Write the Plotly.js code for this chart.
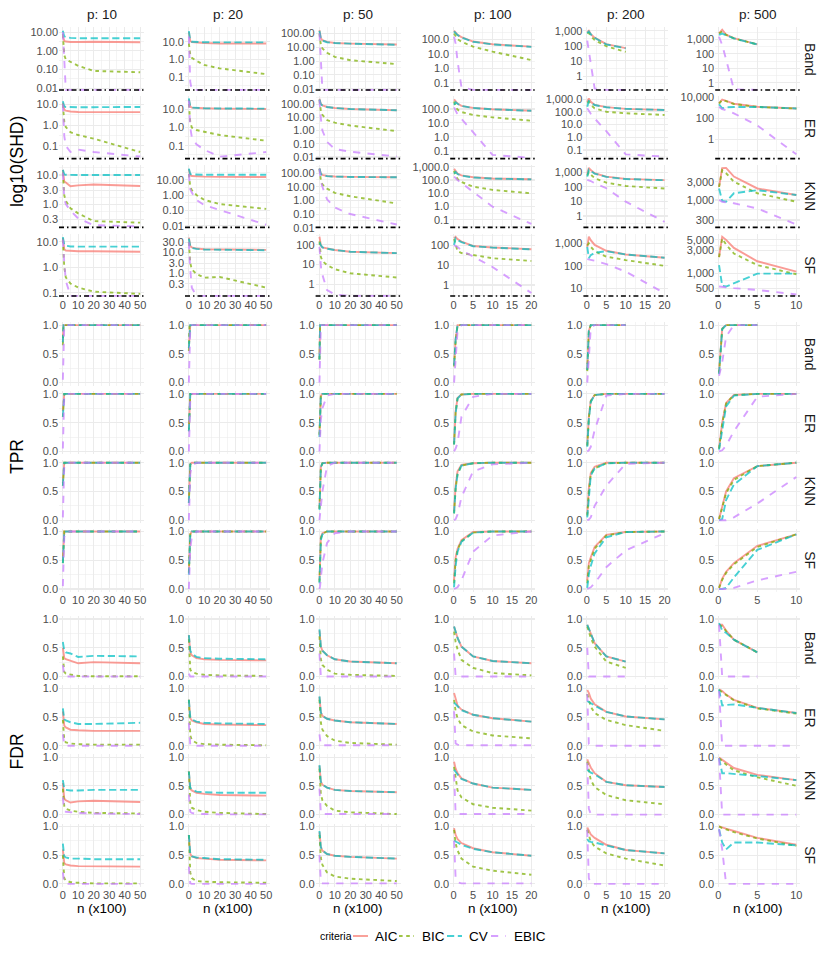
<!DOCTYPE html>
<html>
<head>
<meta charset="utf-8">
<script src="https://cdn.plot.ly/plotly-3.0.1.min.js"></script>
<style>html,body{margin:0;padding:0;background:#fff;}#chart{width:830px;height:958px;}</style>
</head>
<body>
<div id="chart"></div>
<script>
// ---------------- DATA ----------------
const N_VALUES = [0.1, 0.5, 1, 2, 5, 10, 20, 50];   // n (x100)
const P_LABELS = ['p: 10', 'p: 20', 'p: 50', 'p: 100', 'p: 200', 'p: 500'];
const GRAPHS = ['Band', 'ER', 'KNN', 'SF'];
const CRITERIA = ['AIC', 'BIC', 'CV', 'EBIC'];
const METRIC_TITLES = ['log10(SHD)', 'TPR', 'FDR'];

// each graph: [AIC, BIC, CV, EBIC]
const SHD_p10 = {
  Band: [[6,4,3.5,3.2,3.0,3.0,3.1,2.9],[8,1.5,0.6,0.35,0.27,0.16,0.085,0.072],[12,8,6,5.5,5,4.8,4.8,4.8],[10,2,0.1,0,0,0,0,0]],
  ER:   [[12,7,5.5,5,4.5,4.3,4.2,4.2],[10,3,1.5,0.8,0.45,0.33,0.22,0.05],[14,10,8,7.5,7.3,7.3,7.3,7.5],[10,1,0.3,0.1,0.05,0.065,0.05,0.03]],
  KNN:  [[15,7,6,5.5,4.1,4.4,4.7,4.2],[12,3,2,1.3,0.72,0.48,0.26,0.23],[15,11,10.5,10.2,10,10,10,10],[12,2,1.5,1.0,0.6,0.32,0.19,0.17]],
  SF:   [[14,7,5,4.5,4.3,4.2,4.2,4.0],[12,3,1,0.4,0.23,0.16,0.11,0.09],[15,9,7.5,7,6.5,6.4,6.4,6.4],[12,4,1.5,0.3,0,0,0,0]]
};
const SHD_p20 = {
  Band: [[35,15,11,9.5,9,8.5,8,8],[8,3,1.8,1.2,0.8,0.47,0.3,0.14],[40,16,12,10,9.5,9.3,9.2,9.2],[20,1,0.05,0,0,0,0,0]],
  ER:   [[35,18,14,12.5,12,11.5,11,10.5],[20,4,2,1.0,0.73,0.59,0.39,0.19],[40,18,14,12.5,12,11.5,11.2,11],[30,5,1,0.3,0.12,0.06,0.025,0.045]],
  KNN:  [[50,25,20,18,17,16.5,16,15.5],[25,6,3.5,2.2,1.05,0.5,0.27,0.13],[55,28,24,23,22,22,22,22],[25,5,2.5,1.5,0.5,0.23,0.11,0.012]],
  SF:   [[50,25,20,17,15,14,13.5,13],[30,6,3,1.5,0.9,0.6,0.65,0.2],[45,22,19,16,14.5,13.5,13,12.5],[30,5,1.5,0.2,0,0,0,0]]
};
const SHD_p50 = {
  Band: [[170,70,45,32,24,20,18,15.5],[100,30,15,8,4,2,1.15,0.6],[150,65,42,30,23,20,18,15],[100,10,0.5,0,0,0,0,0]],
  ER:   [[250,130,100,80,60,50,42,34],[200,60,30,15,6.2,3.9,2.4,0.9],[220,120,95,78,60,50,42,34],[200,40,8,1,0.14,0.04,0.025,0.011]],
  KNN:  [[230,120,90,75,62,57,53,50],[200,60,30,15,7.3,3.6,2.0,0.6],[220,110,85,72,60,56,52,50],[200,50,25,10,1.2,0.3,0.1,0.017]],
  SF:   [[260,130,95,75,65,55,45,38],[150,50,25,15,9.5,5.8,3.6,2.2],[110,120,95,75,64,55,45,38],[80,20,8,3,0.5,0.3,0,0]]
};
const SHD_p100 = {
  Band: [[400,280,200,140,70,45,31],[250,150,100,68,31,14,3.7],[350,270,195,135,68,44,30],[150,50,3,0.05,0,0,0]],
  ER:   [[500,350,250,170,120,95,75],[350,150,90,60,37,25,14.4],[200,300,240,165,120,95,75],[130,70,40,20,2.0,0.05,0.03]],
  KNN:  [[700,450,300,220,160,130,115],[500,200,120,70,32,18,10],[300,400,280,210,155,128,112],[180,130,100,60,13,1.0,0.05]],
  SF:   [[220,260,200,150,90,76,62],[200,120,50,40,32,22,16],[100,220,180,140,88,75,61],[100,90,80,55,26,8,0.4]]
};
const SHD_p200 = {
  Band: [[800,1000,600,350,130,70],[700,700,450,240,95,40],[700,900,580,340,125,68],[220,50,5,0.15,0,0]],
  ER:   [[600,1100,600,350,230,170,140],[500,600,350,185,100,76,56],[250,700,550,340,225,168,138],[190,120,70,30,3,0.045,0.03]],
  KNN:  [[800,2000,1400,850,500,350,290],[600,1000,700,390,195,115,76],[500,1500,1200,800,480,340,285],[300,280,250,175,80,9.6,0.4]],
  SF:   [[700,2000,1400,850,470,320,230],[800,1000,700,450,255,180,100],[700,220,300,380,450,320,230],[200,195,190,170,120,55,6]]
};
const SHD_p500 = {
  Band: [[2600,4500,2100,1200,450],[2500,3500,2000,1150,440],[2000,2500,1900,1150,440],[1500,400,40,0.35,0.3]],
  ER:   [[2500,5500,4000,2200,1150,800],[2300,5000,3800,2100,1100,780],[2000,800,1000,1100,1100,800],[1100,700,550,280,20,0.04]],
  KNN:  [[2200,6800,6900,4100,2000,1350],[2200,6000,5000,3000,1500,900],[2000,950,900,1500,1800,1350],[1000,900,870,820,600,230]],
  SF:   [[2200,5800,5000,3400,1800,1100],[2200,5300,4000,2600,1500,970],[1500,560,540,630,1000,1000],[540,530,520,500,460,370]]
};

const TPR_p10 = {
  Band: [[0.7,1,1,1,1,1,1,1],[0.65,1,1,1,1,1,1,1],[0.7,1,1,1,1,1,1,1],[0.05,0.9,1,1,1,1,1,1]],
  ER:   [[0.7,0.97,1,1,1,1,1,1],[0.6,0.95,1,1,1,1,1,1],[0.6,0.95,1,1,1,1,1,1],[0.05,0.8,0.98,1,1,1,1,1]],
  KNN:  [[0.65,0.95,1,1,1,1,1,1],[0.6,0.95,1,1,1,1,1,1],[0.6,0.95,1,1,1,1,1,1],[0.05,0.7,0.95,1,1,1,1,1]],
  SF:   [[0.5,0.9,1,1,1,1,1,1],[0.45,0.9,1,1,1,1,1,1],[0.45,0.9,1,1,1,1,1,1],[0.05,0.6,0.9,1,1,1,1,1]]
};
const TPR_p20 = {
  Band: [[0.6,0.98,1,1,1,1,1,1],[0.55,0.98,1,1,1,1,1,1],[0.6,0.98,1,1,1,1,1,1],[0,0.7,0.95,1,1,1,1,1]],
  ER:   [[0.4,0.9,1,1,1,1,1,1],[0.35,0.9,1,1,1,1,1,1],[0.35,0.9,1,1,1,1,1,1],[0,0.5,0.9,1,1,1,1,1]],
  KNN:  [[0.35,0.85,0.97,1,1,1,1,1],[0.3,0.85,0.97,1,1,1,1,1],[0.3,0.8,0.97,1,1,1,1,1],[0,0.4,0.8,0.95,1,1,1,1]],
  SF:   [[0.3,0.8,0.95,1,1,1,1,1],[0.28,0.78,0.95,1,1,1,1,1],[0.25,0.75,0.95,1,1,1,1,1],[0,0.3,0.7,0.9,1,1,1,1]]
};
const TPR_p50 = {
  Band: [[0.4,1,1,1,1,1,1,1],[0.4,1,1,1,1,1,1,1],[0.4,1,1,1,1,1,1,1],[0,0.8,1,1,1,1,1,1]],
  ER:   [[0.3,0.9,0.97,1,1,1,1,1],[0.28,0.88,0.97,1,1,1,1,1],[0.25,0.88,0.97,1,1,1,1,1],[0,0.3,0.55,0.75,0.97,1,1,1]],
  KNN:  [[0.2,0.8,0.93,0.99,1,1,1,1],[0.2,0.78,0.92,0.99,1,1,1,1],[0.18,0.75,0.92,0.99,1,1,1,1],[0,0.1,0.3,0.5,0.94,1,1,1]],
  SF:   [[0.15,0.7,0.9,0.97,1,1,1,1],[0.12,0.65,0.88,0.96,1,1,1,1],[0.1,0.6,0.85,0.95,1,1,1,1],[0,0.05,0.2,0.45,0.8,0.97,1,1]]
};
const TPR_p100 = {
  Band: [[0.3,0.75,1,1,1,1,1],[0.28,0.72,1,1,1,1,1],[0.3,0.75,1,1,1,1,1],[0,0.4,0.9,1,1,1,1]],
  ER:   [[0.13,0.7,0.93,0.99,1,1,1],[0.12,0.68,0.92,0.99,1,1,1],[0.12,0.66,0.92,0.99,1,1,1],[0,0.05,0.15,0.6,0.95,1,1]],
  KNN:  [[0.15,0.6,0.85,0.96,0.99,1,1],[0.12,0.55,0.8,0.95,0.99,1,1],[0.12,0.55,0.8,0.95,0.99,1,1],[0,0.02,0.1,0.4,0.85,0.97,1]],
  SF:   [[0.15,0.55,0.7,0.85,0.99,1,1],[0.1,0.5,0.68,0.83,0.98,1,1],[0.03,0.4,0.65,0.82,0.98,1,1],[0,0.01,0.03,0.15,0.65,0.93,1]]
};
const TPR_p200 = {
  Band: [[0.22,0.9,1,1,1,1],[0.2,0.88,1,1,1,1],[0.22,0.9,1,1,1,1],[0,0.4,0.95,1,1,1]],
  ER:   [[0.1,0.6,0.88,0.98,1,1,1],[0.1,0.58,0.87,0.98,1,1,1],[0.08,0.55,0.86,0.98,1,1,1],[0,0.02,0.08,0.37,0.97,1,1]],
  KNN:  [[0.1,0.55,0.82,0.93,1,1,1],[0.08,0.5,0.8,0.9,0.99,1,1],[0.05,0.45,0.78,0.9,0.99,1,1],[0,0.01,0.05,0.25,0.6,0.98,1]],
  SF:   [[0.15,0.45,0.55,0.73,0.94,0.99,1],[0.1,0.4,0.5,0.7,0.93,0.99,1],[0.02,0.25,0.4,0.62,0.9,0.99,1],[0,0.01,0.03,0.1,0.38,0.67,0.97]]
};
const TPR_p500 = {
  Band: [[0.18,0.94,1,1,1],[0.16,0.93,1,1,1],[0.15,0.93,1,1,1],[0.12,0.35,0.8,1,1]],
  ER:   [[0.05,0.5,0.84,0.98,1,1],[0.05,0.48,0.83,0.98,1,1],[0.03,0.4,0.78,0.97,1,1],[0,0.02,0.1,0.35,0.95,1]],
  KNN:  [[0.02,0.25,0.5,0.73,0.94,1],[0.02,0.22,0.47,0.7,0.94,1],[0,0.02,0.35,0.62,0.94,1],[0,0,0,0.05,0.29,0.75]],
  SF:   [[0.02,0.18,0.3,0.45,0.75,0.95],[0.02,0.16,0.28,0.43,0.73,0.95],[0,0,0.02,0.2,0.68,0.95],[0,0,0,0.02,0.15,0.3]]
};

const FDR_p10 = {
  Band: [[0.5,0.35,0.32,0.3,0.27,0.23,0.25,0.23],[0.35,0.15,0.08,0.05,0.03,0.01,0.005,0.005],[0.6,0.5,0.45,0.42,0.4,0.34,0.36,0.35],[0.2,0.05,0.01,0,0,0,0,0]],
  ER:   [[0.6,0.4,0.35,0.32,0.28,0.27,0.26,0.26],[0.45,0.2,0.1,0.06,0.04,0.03,0.02,0.02],[0.65,0.5,0.46,0.44,0.41,0.38,0.38,0.4],[0.2,0.03,0.01,0,0,0,0,0]],
  KNN:  [[0.55,0.35,0.28,0.25,0.21,0.23,0.24,0.22],[0.45,0.25,0.15,0.1,0.07,0.05,0.03,0.02],[0.6,0.5,0.45,0.43,0.42,0.42,0.43,0.43],[0.3,0.1,0.07,0.05,0.04,0.03,0.02,0.01]],
  SF:   [[0.6,0.4,0.36,0.34,0.32,0.31,0.31,0.3],[0.5,0.2,0.1,0.06,0.03,0.02,0.01,0.01],[0.7,0.52,0.48,0.46,0.44,0.44,0.43,0.43],[0.2,0.05,0.01,0,0,0,0,0]]
};
const FDR_p20 = {
  Band: [[0.72,0.5,0.42,0.37,0.32,0.3,0.29,0.28],[0.65,0.25,0.12,0.08,0.05,0.03,0.02,0.01],[0.72,0.52,0.45,0.4,0.34,0.32,0.31,0.3],[0.05,0.01,0,0,0,0,0,0]],
  ER:   [[0.8,0.55,0.48,0.44,0.41,0.38,0.37,0.36],[0.8,0.35,0.18,0.1,0.05,0.03,0.02,0.01],[0.8,0.57,0.5,0.46,0.42,0.4,0.39,0.38],[0.4,0.05,0.01,0,0,0,0,0]],
  KNN:  [[0.75,0.5,0.45,0.42,0.38,0.36,0.34,0.33],[0.75,0.35,0.2,0.12,0.08,0.05,0.03,0.01],[0.75,0.52,0.47,0.44,0.4,0.39,0.38,0.38],[0.35,0.1,0.05,0.03,0.01,0.01,0.005,0.005]],
  SF:   [[0.85,0.6,0.52,0.48,0.45,0.44,0.42,0.41],[0.85,0.4,0.2,0.1,0.05,0.04,0.03,0.02],[0.85,0.6,0.52,0.48,0.46,0.45,0.43,0.42],[0.3,0.05,0.01,0,0,0,0,0]]
};
const FDR_p50 = {
  Band: [[0.8,0.62,0.52,0.45,0.37,0.3,0.26,0.23],[0.7,0.45,0.3,0.2,0.12,0.05,0.03,0.01],[0.82,0.62,0.52,0.45,0.37,0.3,0.26,0.23],[0.4,0.02,0,0,0,0,0,0]],
  ER:   [[0.85,0.65,0.58,0.52,0.47,0.44,0.41,0.38],[0.8,0.55,0.4,0.28,0.17,0.09,0.05,0.02],[0.86,0.65,0.58,0.52,0.47,0.44,0.41,0.38],[0.2,0.02,0.01,0.01,0.01,0.01,0.01,0.01]],
  KNN:  [[0.85,0.65,0.57,0.52,0.47,0.43,0.41,0.39],[0.8,0.5,0.35,0.25,0.15,0.07,0.04,0.01],[0.86,0.65,0.57,0.52,0.47,0.43,0.41,0.39],[0.45,0.05,0.02,0.01,0.01,0.01,0.01,0.01]],
  SF:   [[0.9,0.72,0.64,0.58,0.52,0.49,0.47,0.44],[0.85,0.6,0.45,0.33,0.2,0.13,0.09,0.05],[0.92,0.72,0.64,0.58,0.52,0.49,0.47,0.44],[0.5,0.05,0.02,0.01,0.01,0.01,0.01,0.01]]
};
const FDR_p100 = {
  Band: [[0.87,0.78,0.67,0.52,0.35,0.27,0.23],[0.78,0.6,0.47,0.29,0.15,0.06,0.02],[0.87,0.78,0.67,0.52,0.35,0.27,0.23],[0.4,0,0,0,0,0,0]],
  ER:   [[0.92,0.8,0.7,0.63,0.54,0.48,0.42],[0.8,0.6,0.48,0.36,0.25,0.18,0.13],[0.75,0.72,0.68,0.62,0.54,0.48,0.42],[0.6,0.04,0.02,0.01,0.01,0.01,0.01]],
  KNN:  [[0.92,0.8,0.72,0.63,0.54,0.47,0.43],[0.83,0.6,0.42,0.3,0.18,0.12,0.07],[0.78,0.74,0.7,0.62,0.54,0.47,0.43],[0.7,0.02,0.01,0.01,0.01,0.01,0.01]],
  SF:   [[0.97,0.85,0.78,0.71,0.62,0.55,0.49],[0.94,0.7,0.58,0.44,0.3,0.23,0.16],[0.75,0.73,0.72,0.68,0.61,0.55,0.49],[0.75,0.1,0.03,0.01,0.01,0.01,0.01]]
};
const FDR_p200 = {
  Band: [[0.9,0.83,0.75,0.58,0.35,0.26],[0.87,0.78,0.67,0.52,0.26,0.15],[0.9,0.83,0.75,0.58,0.35,0.26],[0.5,0,0,0,0,0]],
  ER:   [[0.97,0.92,0.82,0.72,0.59,0.51,0.46],[0.9,0.78,0.68,0.57,0.45,0.36,0.26],[0.78,0.76,0.74,0.7,0.59,0.51,0.46],[0.9,0.03,0,0,0,0,0]],
  KNN:  [[0.96,0.9,0.82,0.72,0.57,0.51,0.48],[0.92,0.75,0.6,0.48,0.34,0.25,0.18],[0.78,0.75,0.73,0.7,0.57,0.51,0.48],[0.9,0.1,0.01,0,0,0,0]],
  SF:   [[0.98,0.92,0.86,0.8,0.68,0.59,0.53],[0.94,0.83,0.74,0.65,0.53,0.44,0.32],[0.78,0.74,0.73,0.72,0.67,0.59,0.53],[0.94,0.1,0,0,0,0,0]]
};
const FDR_p500 = {
  Band: [[0.9,0.9,0.8,0.64,0.42],[0.9,0.87,0.79,0.64,0.42],[0.93,0.8,0.76,0.64,0.42],[0.9,0,0,0,0]],
  ER:   [[0.98,0.95,0.89,0.8,0.66,0.57],[0.97,0.93,0.88,0.79,0.65,0.56],[0.98,0.7,0.71,0.72,0.66,0.57],[0.95,0,0,0,0,0]],
  KNN:  [[0.99,0.95,0.9,0.81,0.69,0.6],[0.98,0.93,0.87,0.77,0.65,0.5],[0.98,0.72,0.72,0.71,0.67,0.6],[0.98,0,0,0,0,0]],
  SF:   [[1.0,0.98,0.96,0.92,0.8,0.68],[1.0,0.97,0.95,0.9,0.79,0.66],[0.95,0.72,0.6,0.72,0.72,0.67],[0.95,0.6,0,0,0,0]]
};

// tick labels
const X_TICKS = [[0,10,20,30,40,50],[0,10,20,30,40,50],[0,10,20,30,40,50],[0,5,10,15,20],[0,5,10,15,20],[0,5,10]];
const UNIT_TICKS = [0, 0.5, 1];
const UNIT_TICKTEXT = ['0.0', '0.5', '1.0'];
// SHD log-axis ticks, per column (p) then per graph
const SHD_TICKS = [
  [[10,1,0.1,0.01],[10,1,0.1],[10,3,1,0.3],[10,1,0.1]],
  [[10,1,0.1],[10,1,0.1],[10,1,0.1,0.01],[30,10,3,1,0.3]],
  [[100,10,1,0.1,0.01],[100,10,1,0.1,0.01],[100,10,1,0.1,0.01],[100,10,1]],
  [[100,10,1,0.1],[100,10,1,0.1],[1000,100,10,1,0.1],[100,10,1]],
  [[1000,100,10,1],[1000,100,10,1,0.1],[1000,100,10,1],[1000,100,10]],
  [[1000,100,10,1],[10000,100,1],[3000,1000,300],[5000,3000,1000,500]]
];
const SHD_TICKTEXT = [
  [['10.00','1.00','0.10','0.01'],['10.0','1.0','0.1'],['10.0','3.0','1.0','0.3'],['10.0','1.0','0.1']],
  [['10.0','1.0','0.1'],['10.0','1.0','0.1'],['10.00','1.00','0.10','0.01'],['30.0','10.0','3.0','1.0','0.3']],
  [['100.00','10.00','1.00','0.10','0.01'],['100.00','10.00','1.00','0.10','0.01'],['100.00','10.00','1.00','0.10','0.01'],['100','10','1']],
  [['100.0','10.0','1.0','0.1'],['100.0','10.0','1.0','0.1'],['1,000.0','100.0','10.0','1.0','0.1'],['100','10','1']],
  [['1,000','100','10','1'],['1,000.0','100.0','10.0','1.0','0.1'],['1,000','100','10','1'],['1,000','100','10']],
  [['1,000','100','10','1'],['10,000','100','1'],['3,000','1,000','300'],['5,000','3,000','1,000','500']]
];

// ---------------- STYLE / GEOMETRY ----------------
const W = 830, H = 958;
const COL_LEFT = [59, 185, 315.6, 450.2, 583.4, 715.2];
const PANEL_W = 85;
const ROW_TOP = [27.4, 96.1, 164.8, 233.5, 322.2, 391.0, 459.8, 528.6, 616.1, 685.4, 754.2, 823.5];
const PANEL_H = 63.3;
const X_RANGE = [[-2.395,52.495],[-2.395,52.495],[-2.395,52.495],[-0.895,20.995],[-0.895,20.995],[-0.395,10.495]];
// log10 ranges for SHD panels [col][graph]
const SHD_RANGE = [
  [[-2.13,1.26],[-1.66,1.40],[-0.825,1.35],[-1.16,1.32]],
  [[-1.8,1.82],[-1.75,1.73],[-2.14,1.99],[-1.14,1.90]],
  [[-2.14,2.43],[-2.18,2.60],[-2.03,2.61],[-0.64,2.58]],
  [[-1.55,2.82],[-1.63,2.93],[-1.61,3.14],[-0.59,2.58]],
  [[-0.97,3.22],[-1.74,3.23],[-0.83,3.51],[0.62,3.44]],
  [[-0.55,3.82],[-1.88,4.06],[2.265,3.92],[2.52,3.83]]
];
const COLORS = {AIC:'#F8766D', BIC:'#7CAE00', CV:'#00BFC4', EBIC:'#C77CFF'};
const DASHES = {AIC:'solid', BIC:'3.6px,3.6px', CV:'7.2px,3.6px', EBIC:'7.2px,7.2px'};
const FONT = 'Liberation Sans, Arial, Helvetica, sans-serif';
const GRID = '#EBEBEB';

const METRIC_DATA = [
  [SHD_p10, SHD_p20, SHD_p50, SHD_p100, SHD_p200, SHD_p500],
  [TPR_p10, TPR_p20, TPR_p50, TPR_p100, TPR_p200, TPR_p500],
  [FDR_p10, FDR_p20, FDR_p50, FDR_p100, FDR_p200, FDR_p500]
];

function midpoints(vals, lo, hi) {
  const s = vals.slice().sort((a,b)=>a-b);
  const out = [];
  if (s.length > 1) {
    const st = s[1]-s[0];
    if (s[0]-st/2 > lo) out.push(s[0]-st/2);
    for (let i=0;i<s.length-1;i++) out.push((s[i]+s[i+1])/2);
    const en = s[s.length-1]-s[s.length-2];
    if (s[s.length-1]+en/2 < hi) out.push(s[s.length-1]+en/2);
  }
  return out;
}

const traces = [];
const layout = {
  width: W, height: H, margin: {l:0, r:0, t:0, b:0},
  paper_bgcolor: '#fff', plot_bgcolor: '#fff',
  showlegend: false, font: {family: FONT, color: '#4D4D4D'},
  annotations: [], shapes: []
};

for (let m = 0; m < 3; m++) {
  for (let g = 0; g < 4; g++) {
    const r = m*4 + g;
    for (let c = 0; c < 6; c++) {
      const idx = r*6 + c + 1;
      const xa = idx === 1 ? 'xaxis' : 'xaxis' + idx;
      const ya = idx === 1 ? 'yaxis' : 'yaxis' + idx;
      const xr = idx === 1 ? 'x' : 'x' + idx;
      const yr = idx === 1 ? 'y' : 'y' + idx;
      const xrange = X_RANGE[c];
      layout[xa] = {
        domain: [COL_LEFT[c]/W, (COL_LEFT[c]+PANEL_W)/W],
        range: xrange, anchor: yr, fixedrange: true,
        tickmode: 'array', tickvals: X_TICKS[c], ticktext: X_TICKS[c].map(String),
        showticklabels: g === 3, ticks: '', zeroline: false, showline: false,
        showgrid: true, gridcolor: GRID, gridwidth: 1.05,
        tickfont: {size: 11, color: '#4D4D4D', family: FONT},
        minor: {tickmode: 'array', tickvals: midpoints(X_TICKS[c], xrange[0], xrange[1]), showgrid: true, gridcolor: GRID, gridwidth: 0.55, ticks: ''}
      };
      let yCfg;
      if (m === 0) {
        const rg = SHD_RANGE[c][g];
        const lt = SHD_TICKS[c][g].map(v => Math.log10(v));
        const minorLog = midpoints(lt, rg[0], rg[1]).map(v => Math.pow(10, v));
        yCfg = {type: 'log', range: rg, tickvals: SHD_TICKS[c][g], ticktext: SHD_TICKTEXT[c][g],
                minor: {tickmode: 'array', tickvals: minorLog, showgrid: true, gridcolor: GRID, gridwidth: 0.55, ticks: ''}};
      } else {
        yCfg = {type: 'linear', range: [-0.05, 1.05], tickvals: UNIT_TICKS, ticktext: UNIT_TICKTEXT,
                minor: {tickmode: 'array', tickvals: [0.25, 0.75], showgrid: true, gridcolor: GRID, gridwidth: 0.55, ticks: ''}};
      }
      layout[ya] = Object.assign({
        domain: [1 - (ROW_TOP[r]+PANEL_H)/H, 1 - ROW_TOP[r]/H],
        anchor: xr, fixedrange: true, tickmode: 'array',
        ticks: '', zeroline: false, showline: false, showgrid: true, gridcolor: GRID, gridwidth: 1.05,
        tickfont: {size: 11, color: '#4D4D4D', family: FONT}
      }, yCfg);

      const series = METRIC_DATA[m][c][GRAPHS[g]];
      CRITERIA.forEach((crit, k) => {
        const vals = series[k];
        const xs = N_VALUES.slice(0, vals.length);
        let ys = vals;
        if (m === 0) {
          const rg = SHD_RANGE[c][g];
          const floor = Math.pow(10, rg[0] + 0.012*(rg[1]-rg[0]));
          ys = vals.map(v => v > floor ? v : floor);   // zeros (-Inf on log) drawn at panel edge
        }
        traces.push({
          type: 'scatter', mode: 'lines', x: xs, y: ys, xaxis: xr, yaxis: yr,
          line: {color: COLORS[crit], width: 1.9, dash: DASHES[crit]},
          opacity: 0.72, hoverinfo: 'skip', showlegend: false
        });
      });
      if (m === 0) {
        layout.shapes.push({type: 'line', xref: xr + ' domain', yref: yr + ' domain',
          x0: 0, x1: 1, y0: 0.012, y1: 0.012,
          line: {color: '#000', width: 1.6, dash: '5px,3px,1.5px,3px'}});
      }
    }
    // right strip label
    layout.annotations.push({text: GRAPHS[g], xref: 'paper', yref: 'paper',
      x: 810/W, y: 1 - (ROW_TOP[r] + PANEL_H/2)/H, textangle: 90, showarrow: false,
      font: {size: 14, color: '#1A1A1A', family: FONT}, xanchor: 'center', yanchor: 'middle'});
  }
  // metric title
  const top = ROW_TOP[m*4], bot = ROW_TOP[m*4+3] + PANEL_H;
  layout.annotations.push({text: METRIC_TITLES[m], xref: 'paper', yref: 'paper',
    x: 17/W, y: 1 - (top+bot)/2/H, textangle: -90, showarrow: false,
    font: {size: 17.5, color: '#000', family: FONT}, xanchor: 'center', yanchor: 'middle'});
}
// top strips and x titles
for (let c = 0; c < 6; c++) {
  const cx = (COL_LEFT[c] + PANEL_W/2)/W;
  layout.annotations.push({text: P_LABELS[c], xref: 'paper', yref: 'paper', x: cx, y: 1 - 15/H,
    showarrow: false, font: {size: 13.5, color: '#1A1A1A', family: FONT}, xanchor: 'center', yanchor: 'middle'});
  layout.annotations.push({text: 'n (x100)', xref: 'paper', yref: 'paper', x: cx, y: 1 - 908/H,
    showarrow: false, font: {size: 13.5, color: '#000', family: FONT}, xanchor: 'center', yanchor: 'middle'});
}
// legend
const LEG_Y = 1 - 936/H;
layout.annotations.push({text: 'criteria', xref: 'paper', yref: 'paper', x: 318/W, y: LEG_Y,
  xanchor: 'left', yanchor: 'middle', showarrow: false, font: {size: 10.5, color: '#000', family: FONT}});
const LEG_LINE_X = [353, 399, 447, 491];
const LEG_TEXT_X = [373, 420, 467, 512];
CRITERIA.forEach((crit, k) => {
  layout.shapes.push({type: 'line', xref: 'paper', yref: 'paper',
    x0: LEG_LINE_X[k]/W, x1: (LEG_LINE_X[k]+15)/W, y0: LEG_Y, y1: LEG_Y,
    opacity: 0.72, line: {color: COLORS[crit], width: 1.9, dash: DASHES[crit]}});
  layout.annotations.push({text: crit, xref: 'paper', yref: 'paper', x: LEG_TEXT_X[k]/W, y: LEG_Y,
    xanchor: 'left', yanchor: 'middle', showarrow: false, font: {size: 13.5, color: '#000', family: FONT}});
});

Plotly.newPlot('chart', traces, layout, {displayModeBar: false, staticPlot: true});
</script>
</body>
</html>
